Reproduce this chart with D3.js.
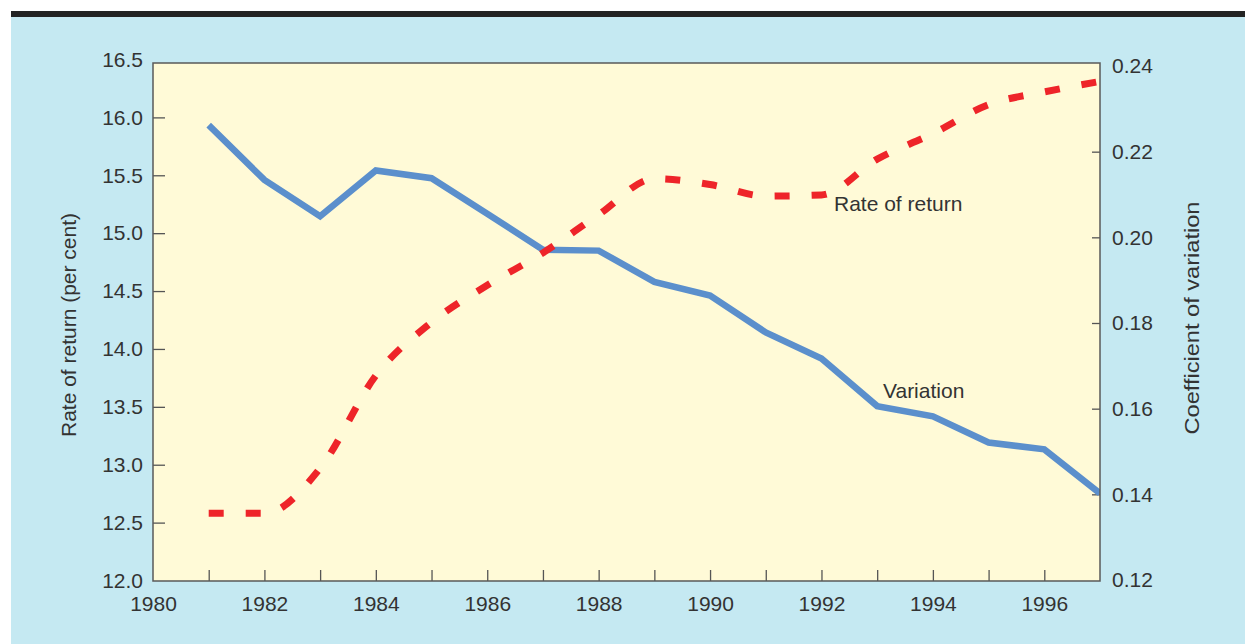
<!DOCTYPE html>
<html lang="en">
<head>
  <meta charset="UTF-8">
  <title>Rate of return and coefficient of variation</title>
  <style>
    body { margin: 0; background: #fff; }
    text { font-family: "Liberation Sans", Arial, sans-serif; fill: #333; }
    .axis text { font-size: 21px; }
    .axis line { stroke: #555; stroke-width: 1.3px; }
    .axis path { display: none; }
    .note { font-size: 21px; }
  </style>
</head>
<body>
  <svg id="chart" width="1245" height="644"></svg>

  <script src="https://d3js.org/d3.v7.min.js"></script>
  <script>
    // Data
    const years = [1981, 1982, 1983, 1984, 1985, 1986, 1987, 1988, 1989,
                   1990, 1991, 1992, 1993, 1994, 1995, 1996, 1997];
    const rateOfReturn = [12.58, 12.58, 12.97, 13.77, 14.23, 14.55, 14.83, 15.16, 15.47,
                          15.42, 15.32, 15.33, 15.64, 15.86, 16.11, 16.22, 16.31];
    const variation = [0.2262, 0.2134, 0.2049, 0.2156, 0.2138, 0.2055, 0.1971, 0.1969, 0.1896,
                       0.1864, 0.1778, 0.1717, 0.1606, 0.1582, 0.1521, 0.1505, 0.1402];
    const leftTicks = [12.0, 12.5, 13.0, 13.5, 14.0, 14.5, 15.0, 15.5, 16.0, 16.5];
    const rightTicks = [0.12, 0.14, 0.16, 0.18, 0.20, 0.22, 0.24];
    const xTicks = d3.range(1980, 1998);

    const plot = { left: 153, right: 1100, top: 63, bottom: 581 };

    const svg = d3.select('#chart');

    // background panel and top rule
    svg.append('rect').attr('x', 11).attr('y', 16).attr('width', 1234).attr('height', 628)
      .attr('fill', '#c5e9f2');
    svg.append('rect').attr('x', 11).attr('y', 11).attr('width', 1234).attr('height', 6)
      .attr('fill', '#232323');

    svg.append('rect')
      .attr('x', plot.left).attr('y', plot.top)
      .attr('width', plot.right - plot.left).attr('height', plot.bottom - plot.top)
      .attr('fill', '#fffad7');

    // scales
    const x = d3.scaleLinear().domain([1980, 1997]).range([plot.left, plot.right]);
    const yLeft = d3.scaleLinear().domain([12, 16.5]).range([580.5, 59.5]);
    const yRight = d3.scaleLinear().domain([0.12, 0.24]).range([580, 66]);

    // axes, ticks pointing inwards
    const gx = svg.append('g').attr('class', 'axis')
      .attr('transform', `translate(0,${plot.bottom})`)
      .call(d3.axisBottom(x).tickValues(xTicks).tickSize(-11).tickPadding(15)
        .tickFormat(d => d % 2 === 0 ? d : ''));
    gx.selectAll('.tick').filter(d => d === 1980 || d === 1997).select('line').remove();

    const gl = svg.append('g').attr('class', 'axis')
      .attr('transform', `translate(${plot.left},0)`)
      .call(d3.axisLeft(yLeft).tickValues(leftTicks).tickSize(-12).tickPadding(10)
        .tickFormat(d3.format('.1f')));
    gl.selectAll('.tick').filter(d => d === 12 || d === 16.5).select('line').remove();

    const gr = svg.append('g').attr('class', 'axis')
      .attr('transform', `translate(${plot.right},0)`)
      .call(d3.axisRight(yRight).tickValues(rightTicks).tickSize(-8).tickPadding(12)
        .tickFormat(d3.format('.2f')));
    gr.selectAll('.tick').filter(d => d === 0.12 || d === 0.24).select('line').remove();

    // clip lines to plot
    svg.append('clipPath').attr('id', 'clip')
      .append('rect')
      .attr('x', plot.left).attr('y', plot.top)
      .attr('width', plot.right - plot.left).attr('height', plot.bottom - plot.top);

    const varLine = d3.line()
      .x((d, i) => x(years[i]))
      .y(d => yRight(d));

    const rateLine = d3.line()
      .x((d, i) => x(years[i]))
      .y(d => yLeft(d))
      .curve(d3.curveMonotoneX);

    const lines = svg.append('g').attr('clip-path', 'url(#clip)');

    lines.append('path')
      .datum(variation)
      .attr('d', varLine)
      .attr('fill', 'none')
      .attr('stroke', '#5b8fcc')
      .attr('stroke-width', 6.5)
      .attr('stroke-linejoin', 'miter');

    lines.append('path')
      .datum(rateOfReturn)
      .attr('d', rateLine)
      .attr('fill', 'none')
      .attr('stroke', '#ee2429')
      .attr('stroke-width', 7)
      .attr('stroke-dasharray', '15 22');

    // plot border
    svg.append('path')
      .attr('d', `M${plot.left},${plot.top}H${plot.right}V${plot.bottom}H${plot.left}Z`)
      .attr('fill', 'none').attr('stroke', '#5a5a5a').attr('stroke-width', 1.5);

    // series notes
    svg.append('text').attr('class', 'note').attr('x', 834).attr('y', 211).text('Rate of return');
    svg.append('text').attr('class', 'note').attr('x', 883).attr('y', 398).text('Variation');

    // axis titles
    svg.append('text').attr('class', 'note')
      .attr('transform', 'translate(76,325) rotate(-90)')
      .attr('text-anchor', 'middle')
      .attr('textLength', 224).attr('lengthAdjust', 'spacingAndGlyphs')
      .text('Rate of return (per cent)');
    svg.append('text').attr('class', 'note')
      .attr('transform', 'translate(1199,318) rotate(-90)')
      .attr('text-anchor', 'middle')
      .attr('textLength', 233).attr('lengthAdjust', 'spacingAndGlyphs')
      .text('Coefficient of variation');
  </script>
</body>
</html>
